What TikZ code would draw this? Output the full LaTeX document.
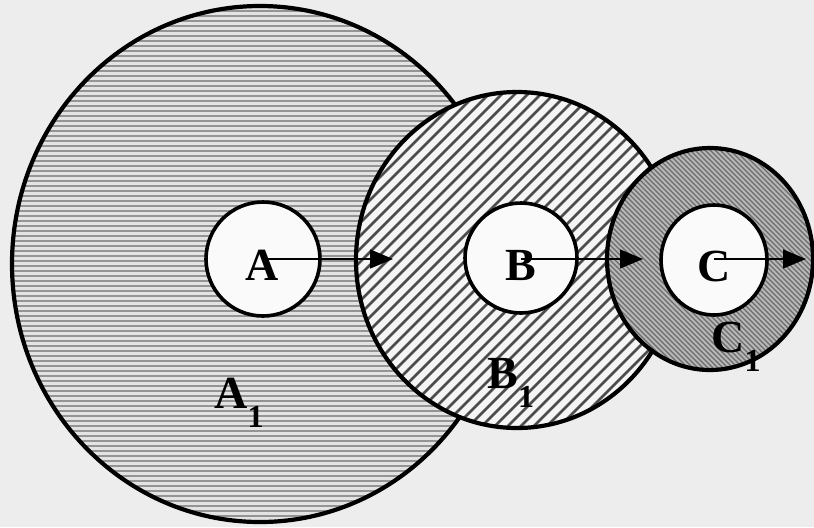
\documentclass[tikz,border=0pt]{standalone}
\usepackage{fontspec}
\setmainfont{Liberation Serif}
\usetikzlibrary{arrows.meta}

\tikzset{
  rim/.style={line width=2.1pt},
  core/.style={fill=black!2, line width=1.8pt},
  lbl/.style={font=\fontsize{23}{23}\selectfont\bfseries, inner sep=0pt},
  feed/.style={line width=0.7pt, -{Triangle[length=11.5pt,width=9.5pt]}},
}
\newcommand{\lowidx}[1]{\raisebox{-0.9ex}{\fontsize{16}{16}\selectfont #1}}

\begin{document}
\begin{tikzpicture}[x=0.5pt, y=-0.5pt]
    \fill[black!7] (0,0) rectangle (814,527);
    \useasboundingbox (0,0) rectangle (814,527);
    % A1: horizontal hatching
    \fill[black!11] (260,264) ellipse [x radius=248, y radius=258];
    \begin{scope}
        \clip (260,264) ellipse [x radius=248, y radius=258];
        \foreach \y in {6,11,...,526} \draw[black!42, line width=0.6pt] (0,\y) -- (520,\y);
    \end{scope}
    \draw[rim] (260,264) ellipse [x radius=248, y radius=258];
    % B1: wide diagonal hatching
    \fill[black!4] (517,260) ellipse [x radius=161, y radius=168];
    \begin{scope}
        \clip (517,260) ellipse [x radius=161, y radius=168];
        \foreach \x in {0,13,...,700} \draw[black!70, line width=1.3pt] (\x,440) -- ++(350,-350);
    \end{scope}
    \draw[rim] (517,260) ellipse [x radius=161, y radius=168];
    % C1: dark, fine hatching
    \fill[black!28] (710,259) ellipse [x radius=103, y radius=111];
    \begin{scope}
        \clip (710,259) ellipse [x radius=103, y radius=111];
        \foreach \x in {360,365,...,830} \draw[black!58, line width=0.6pt] (\x,140) -- ++(240,240);
    \end{scope}
    \draw[rim] (710,259) ellipse [x radius=103, y radius=111];
    % inner circles
    \draw[core] (263,259) ellipse [x radius=57, y radius=57];
    \draw[core] (521,258) ellipse [x radius=56, y radius=55];
    \draw[core] (714,260) ellipse [x radius=53, y radius=55];

    \node[lbl] (A) at (262,265) {A};
    \node[lbl] (B) at (521,265) {B};
    \node[lbl] (C) at (714,266) {C};
    \node[lbl, anchor=base west] (A1) at (214,408) {A\lowidx{1}};
    \node[lbl, anchor=base west] (B1) at (487,388) {B\lowidx{1}};
    \node[lbl, anchor=base west] (C1) at (711,352) {C\lowidx{1}};

    \coordinate (aTip) at (393,259);
    \coordinate (bTip) at (643,259);
    \coordinate (cTip) at (806,259);
    \draw[feed] (A.center |- aTip) -- (aTip);
    \draw[feed] (B.center |- bTip) -- (bTip);
    \draw[feed] (C.center |- cTip) -- (cTip);
\end{tikzpicture}
\end{document}
